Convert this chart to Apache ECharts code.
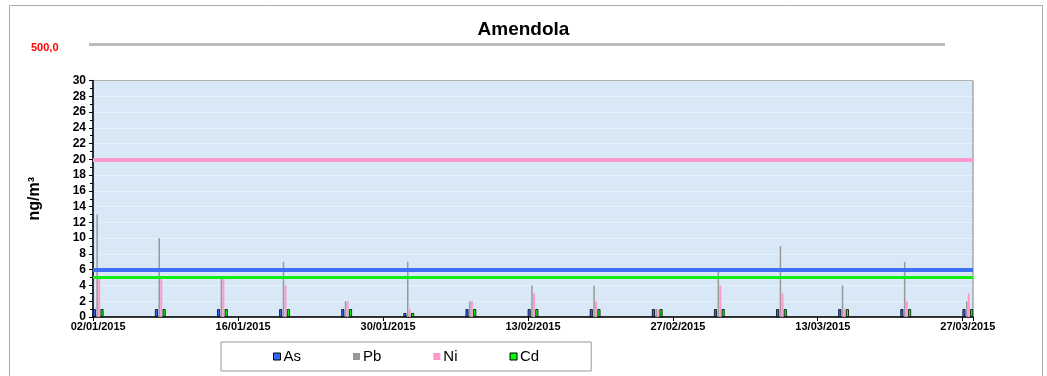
<!DOCTYPE html>
<html>
<head>
<meta charset="utf-8">
<script src="https://cdn.jsdelivr.net/npm/echarts@6/dist/echarts.min.js"></script>
<style>
html,body{margin:0;padding:0;background:#fff;}
#chart{width:1047px;height:376px;}
</style>
</head>
<body>
<div id="chart"></div>
<script>
// ---- data ----
var sampleDates = ['02/01/2015','08/01/2015','14/01/2015','20/01/2015','26/01/2015','01/02/2015','07/02/2015','13/02/2015','19/02/2015','25/02/2015','03/03/2015','09/03/2015','15/03/2015','21/03/2015','27/03/2015'];
var asValues = [1,1,1,1,1,0.5,1,1,1,1,1,1,1,1,1];
var pbValues = [13,10,5,7,2,7,2,4,4,1,6,9,4,7,2];
var niValues = [5,5,5,4,2,1,2,3,2,1,4,3,1,2,3];
var cdValues = [1,1,1,1,1,0.5,1,1,1,1,1,1,1,1,1];
var limitAs = 6;
var limitNi = 20;
var limitCd = 5;
var pbLimitLabel = '500,0';
var axisStart = '02/01/2015';
var axisEnd = '27/03/2015';

// ---- build daily category axis ----
function parseD(s){var p=s.split('/');return new Date(Date.UTC(+p[2],+p[1]-1,+p[0]));}
function fmt(d){var dd=('0'+d.getUTCDate()).slice(-2),mm=('0'+(d.getUTCMonth()+1)).slice(-2);return dd+'/'+mm+'/'+d.getUTCFullYear();}
var categories=[];
for(var d=parseD(axisStart);d<=parseD(axisEnd);d=new Date(d.getTime()+86400000)){categories.push(fmt(d));}
function toSeries(vals){
  var arr=categories.map(function(){return null;});
  sampleDates.forEach(function(s,i){var k=categories.indexOf(s);if(k>=0)arr[k]=vals[i];});
  return arr;
}

var chart = echarts.init(document.getElementById('chart'), null, {renderer:'canvas'});
var FONT = 'Liberation Sans, Arial, sans-serif';
var option = {
  animation:false,
  backgroundColor:'#ffffff',
  title:{text:'Amendola',left:'center',top:20,padding:0,textStyle:{fontFamily:FONT,fontSize:19,fontWeight:'bold',color:'#000'}},
  graphic:[
    {type:'rect',silent:true,shape:{x:9.5,y:5.5,width:1033,height:380},style:{fill:'none',stroke:'#aaaaaa',lineWidth:1}},
    {type:'rect',silent:true,shape:{x:89,y:43,width:856,height:3},style:{fill:'#bbbbbb'}},
    {type:'text',silent:true,left:31,top:42,style:{text:pbLimitLabel,fill:'#ff0000',font:'bold 11px '+FONT}}
  ],
  legend:{
    left:221,top:342,
    padding:[7,52,7,52],
    itemGap:52,
    itemWidth:7,itemHeight:7,
    borderColor:'#999999',borderWidth:1,
    icon:'rect',
    textStyle:{fontFamily:FONT,fontSize:15,color:'#000',padding:[0,0,0,-2]},
    data:[
      {name:'As',itemStyle:{color:'#3366ff',borderColor:'#000',borderWidth:1}},
      {name:'Pb',itemStyle:{color:'#999999',borderWidth:0}},
      {name:'Ni',itemStyle:{color:'#ff99cc',borderWidth:0}},
      {name:'Cd',itemStyle:{color:'#00ff00',borderColor:'#000',borderWidth:1}}
    ]
  },
  grid:{left:93,right:74,top:80.5,bottom:59,show:true,backgroundColor:'#d9e8f6',borderColor:'#808080',borderWidth:1,containLabel:false},
  xAxis:{
    type:'category',
    data:categories,
    boundaryGap:true,
    axisLine:{lineStyle:{color:'#000',width:1.5}},
    axisTick:{show:true,interval:13,length:4,lineStyle:{color:'#000'}},
    axisLabel:{interval:13,fontFamily:FONT,fontSize:11,fontWeight:'bold',color:'#000',margin:4},
    splitLine:{show:false}
  },
  yAxis:{
    type:'value',min:0,max:30,interval:2,
    name:'ng/m³',nameLocation:'middle',nameGap:50,nameRotate:90,
    nameTextStyle:{fontFamily:FONT,fontSize:16,fontWeight:'bold',color:'#000'},
    axisLine:{show:true,lineStyle:{color:'#000',width:1.5}},
    axisTick:{show:true,inside:false,length:4,lineStyle:{color:'#000'}},
    minorTick:{show:true,splitNumber:2,length:3,lineStyle:{color:'#000'}},
    axisLabel:{fontFamily:FONT,fontSize:12,fontWeight:'bold',color:'#000',margin:7},
    splitLine:{show:true,lineStyle:{color:'rgba(255,255,255,0.4)',width:1}}
  },
  series:[
    {name:'As',type:'bar',data:toSeries(asValues),barWidth:3,barGap:'18%',itemStyle:{color:'#3366ff',borderColor:'#000',borderWidth:0.8}},
    {name:'Pb',type:'bar',data:toSeries(pbValues),barWidth:1.5,barGap:'18%',itemStyle:{color:'#999999'}},
    {name:'Ni',type:'bar',data:toSeries(niValues),barWidth:2,barGap:'18%',itemStyle:{color:'#ff99cc'}},
    {name:'Cd',type:'bar',data:toSeries(cdValues),barWidth:3,barGap:'18%',itemStyle:{color:'#00ff00',borderColor:'#000',borderWidth:0.8}},
    {name:'limits',type:'line',data:[],z:10,silent:true,
      markLine:{silent:true,symbol:['none','none'],label:{show:false},
        data:[
          {yAxis:limitNi,lineStyle:{color:'#ff99cc',width:4,type:'solid'}},
          {yAxis:limitAs,lineStyle:{color:'#3f6ff2',width:4,type:'solid'}},
          {yAxis:limitCd,lineStyle:{color:'#11ee11',width:3,type:'solid'}}
        ]}
    }
  ]
};
chart.setOption(option);
</script>
</body>
</html>
